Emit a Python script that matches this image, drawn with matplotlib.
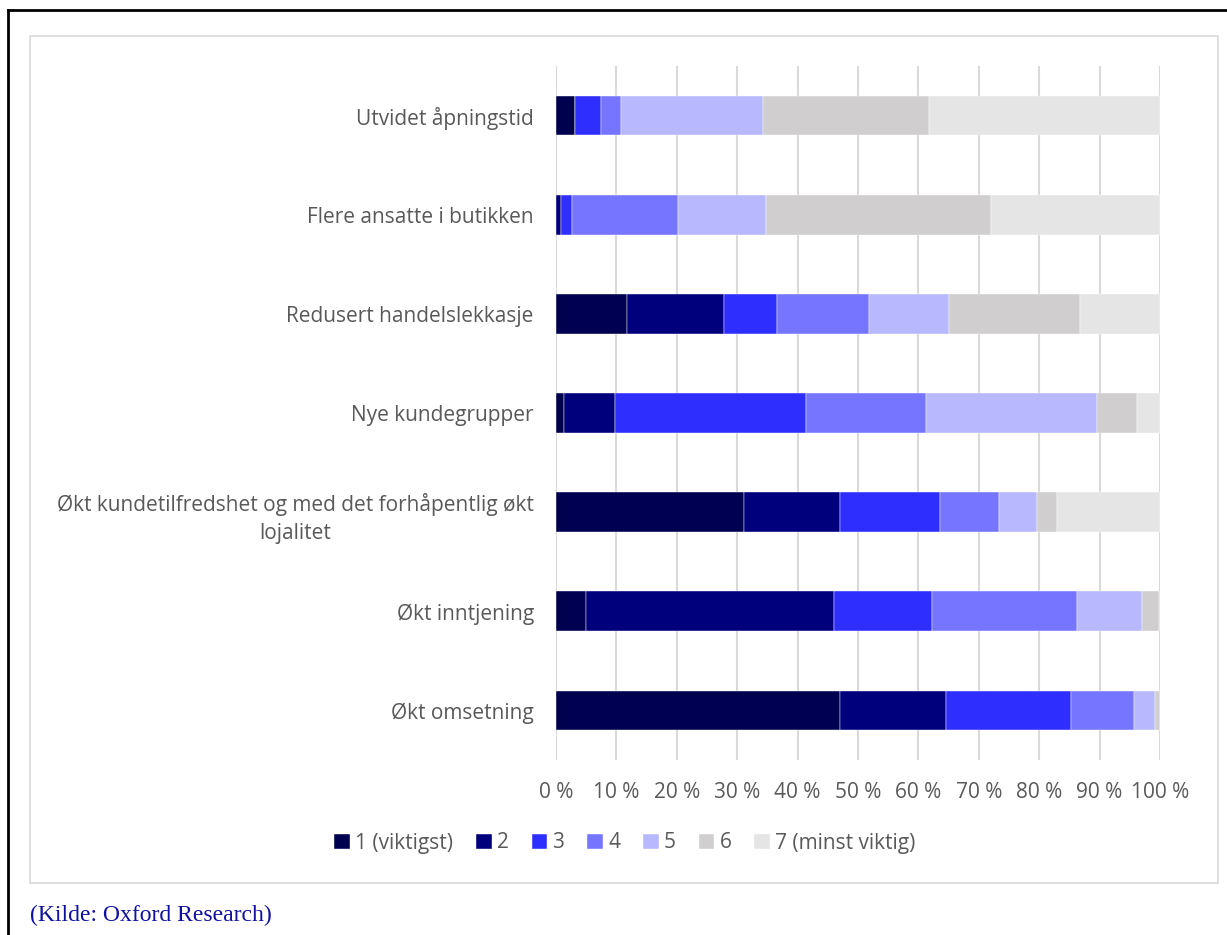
import numpy as np
import matplotlib.pyplot as plt
from matplotlib.patches import Rectangle
from matplotlib.lines import Line2D

plt.rcParams['font.family'] = ['Open Sans', 'DejaVu Sans']

categories = [
    "Utvidet åpningstid",
    "Flere ansatte i butikken",
    "Redusert handelslekkasje",
    "Nye kundegrupper",
    "Økt kundetilfredshet og med det forhåpentlig økt\nlojalitet",
    "Økt inntjening",
    "Økt omsetning",
]
series_names = ["1 (viktigst)", "2", "3", "4", "5", "6", "7 (minst viktig)"]

# percent per rank, one list per rank, in category order (top to bottom)
rank1 = [3.2, 0.0, 11.7, 1.3, 31.1, 5.0, 47.1]
rank2 = [0.0, 0.8, 16.1, 8.5, 16.0, 41.1, 17.4]
rank3 = [4.3, 1.9, 8.8, 31.6, 16.4, 16.1, 20.8]
rank4 = [3.3, 17.5, 15.2, 19.9, 9.9, 24.0, 10.4]
rank5 = [23.5, 14.6, 13.2, 28.3, 6.2, 10.9, 3.4]
rank6 = [27.4, 37.3, 21.8, 6.6, 3.3, 2.8, 0.9]
rank7 = [38.3, 27.9, 13.2, 3.8, 17.1, 0.0, 0.0]
ranks = [rank1, rank2, rank3, rank4, rank5, rank6, rank7]

colors = ["#000050", "#00007c", "#2e2eff", "#7575ff", "#b8b8ff", "#d0cece", "#e5e5e5"]
txt = "#595959"
fs = 15

fig = plt.figure(figsize=(12.27, 9.35), dpi=100)

# outer black frame (left and top visible)
fig.add_artist(Line2D([8/1227, 8/1227], [0, 1 - 10/935], color="black", lw=2))
fig.add_artist(Line2D([8/1227, 1], [1 - 10/935, 1 - 10/935], color="black", lw=2))
# chart area frame
fig.add_artist(Rectangle((30/1227, 1 - 883/935), (1218 - 30)/1227, (883 - 36)/935,
                         fill=False, edgecolor="#d9d9d9", lw=1.2))

ax = fig.add_axes([556/1227, 1 - 760/935, 604/1227, (760 - 66)/935])
y = np.arange(len(categories))
left = np.zeros(len(categories))
for vals, name, c in zip(ranks, series_names, colors):
    vals = np.array(vals)
    ax.barh(y, vals, left=left, height=0.4, color=c, label=name, zorder=3,
            edgecolor="white", linewidth=0.3)
    left += vals

ax.set_ylim(len(categories) - 0.5, -0.5)
ax.set_xlim(0, 100)
ax.set_xticks(np.arange(0, 101, 10))
ax.set_xticklabels([f"{v} %" for v in range(0, 101, 10)])
ax.set_yticks(y)
ax.set_yticklabels(categories, ha="right", multialignment="center", linespacing=1.45)
ax.tick_params(axis="both", length=0, labelsize=fs, colors=txt)
ax.tick_params(axis="y", pad=16)
ax.tick_params(axis="x", pad=16)
ax.xaxis.grid(True, color="#d9d9d9", lw=1.5, zorder=0)
for s in ax.spines.values():
    s.set_visible(False)

fig.legend(loc="center", bbox_to_anchor=(625/1227, 1 - 843/935), ncol=7,
           frameon=False, fontsize=fs, labelcolor=txt, handlelength=0.75,
           handleheight=0.75, handletextpad=0.25, columnspacing=1.1)

fig.text(30/1227, 1 - 915/935, "(Kilde: Oxford Research)", family="Liberation Serif",
         fontsize=17, color="#1010a0", va="center", ha="left")

fig.savefig("out.png", dpi=100)
